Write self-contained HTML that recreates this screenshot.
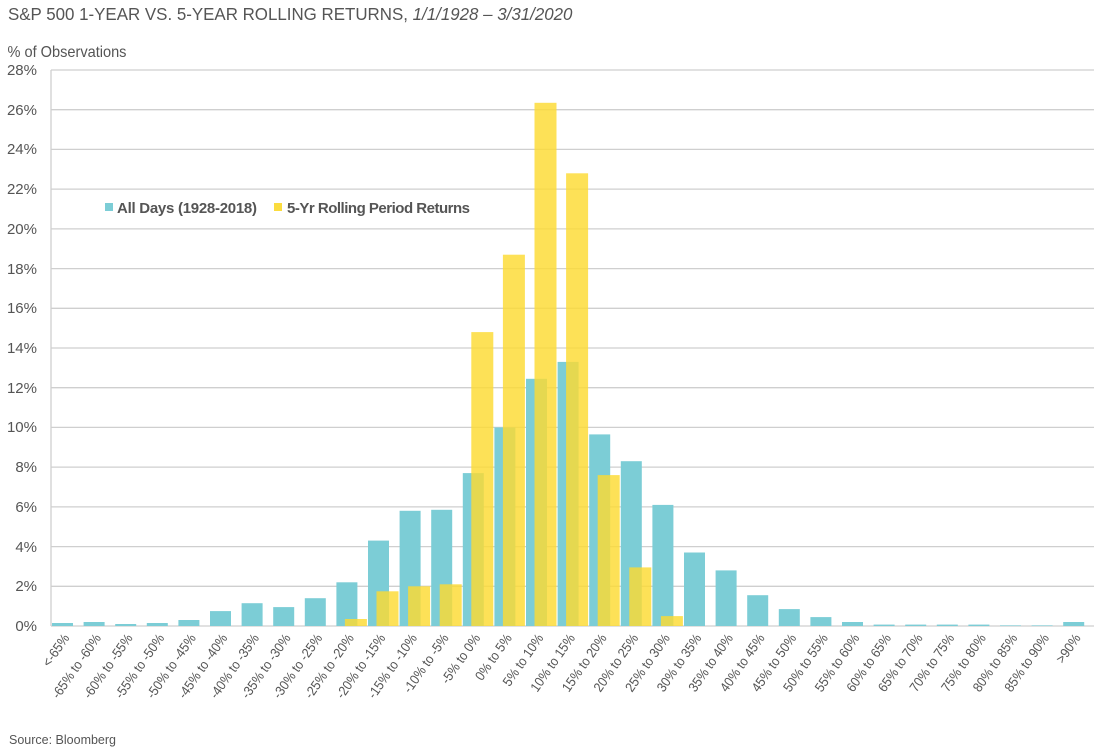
<!DOCTYPE html>
<html><head><meta charset="utf-8"><style>
body{margin:0;background:#fff;}
svg{display:block;}
text{font-family:"Liberation Sans Narrow","Liberation Sans",sans-serif;fill:#555;}
</style></head><body>
<svg width="1108" height="752" viewBox="0 0 1108 752">
<text x="8" y="20" font-size="18" fill="#595959" transform="translate(0.5,0) scale(0.94,1)">S&amp;P 500 1-YEAR VS. 5-YEAR ROLLING RETURNS, <tspan font-style="italic">1/1/1928 – 3/31/2020</tspan></text>
<text x="8" y="57" font-size="15.5" transform="scale(0.94,1)">% of Observations</text>
<g stroke="#cfcfcf" stroke-width="1.3">
<line x1="51" y1="70" x2="1094" y2="70"/><line x1="51" y1="109.7" x2="1094" y2="109.7"/><line x1="51" y1="149.4" x2="1094" y2="149.4"/><line x1="51" y1="189.1" x2="1094" y2="189.1"/><line x1="51" y1="228.9" x2="1094" y2="228.9"/><line x1="51" y1="268.6" x2="1094" y2="268.6"/><line x1="51" y1="308.3" x2="1094" y2="308.3"/><line x1="51" y1="348" x2="1094" y2="348"/><line x1="51" y1="387.7" x2="1094" y2="387.7"/><line x1="51" y1="427.4" x2="1094" y2="427.4"/><line x1="51" y1="467.1" x2="1094" y2="467.1"/><line x1="51" y1="506.9" x2="1094" y2="506.9"/><line x1="51" y1="546.6" x2="1094" y2="546.6"/><line x1="51" y1="586.3" x2="1094" y2="586.3"/><line x1="51" y1="626" x2="1094" y2="626"/>
<line x1="51" y1="70" x2="51" y2="626"/>
</g>
<g font-size="15" text-anchor="end">
<text x="37" y="75">28%</text><text x="37" y="115">26%</text><text x="37" y="154">24%</text><text x="37" y="194">22%</text><text x="37" y="234">20%</text><text x="37" y="274">18%</text><text x="37" y="313">16%</text><text x="37" y="353">14%</text><text x="37" y="393">12%</text><text x="37" y="432">10%</text><text x="37" y="472">8%</text><text x="37" y="512">6%</text><text x="37" y="552">4%</text><text x="37" y="591">2%</text><text x="37" y="631">0%</text>
</g>
<g fill="#7ccdd6">
<rect x="52" y="623" width="21" height="3"/>
<rect x="83.6" y="622" width="21" height="4"/>
<rect x="115.2" y="624" width="21" height="2"/>
<rect x="146.8" y="623" width="21" height="3"/>
<rect x="178.4" y="620" width="21" height="6"/>
<rect x="210" y="611.1" width="21" height="14.9"/>
<rect x="241.6" y="603.2" width="21" height="22.8"/>
<rect x="273.2" y="607.1" width="21" height="18.9"/>
<rect x="304.8" y="598.2" width="21" height="27.8"/>
<rect x="336.4" y="582.3" width="21" height="43.7"/>
<rect x="368" y="540.6" width="21" height="85.4"/>
<rect x="399.6" y="510.8" width="21" height="115.2"/>
<rect x="431.2" y="509.8" width="21" height="116.2"/>
<rect x="462.8" y="473.1" width="21" height="152.9"/>
<rect x="494.4" y="427.4" width="21" height="198.6"/>
<rect x="526" y="378.8" width="21" height="247.2"/>
<rect x="557.6" y="361.9" width="21" height="264.1"/>
<rect x="589.2" y="434.4" width="21" height="191.6"/>
<rect x="620.8" y="461.2" width="21" height="164.8"/>
<rect x="652.4" y="504.9" width="21" height="121.1"/>
<rect x="684" y="552.5" width="21" height="73.5"/>
<rect x="715.6" y="570.4" width="21" height="55.6"/>
<rect x="747.2" y="595.2" width="21" height="30.8"/>
<rect x="778.8" y="609.1" width="21" height="16.9"/>
<rect x="810.4" y="617.1" width="21" height="8.9"/>
<rect x="842" y="622" width="21" height="4"/>
<rect x="873.6" y="624.6" width="21" height="1.4"/>
<rect x="905.2" y="624.6" width="21" height="1.4"/>
<rect x="936.8" y="624.6" width="21" height="1.4"/>
<rect x="968.4" y="624.6" width="21" height="1.4"/>
<rect x="1000" y="625.4" width="21" height="0.6"/>
<rect x="1031.6" y="625.4" width="21" height="0.6"/>
<rect x="1063.2" y="622" width="21" height="4"/>
</g>
<g fill="rgb(252,218,50)" fill-opacity="0.82">
<rect x="344.9" y="619" width="22" height="7"/>
<rect x="376.5" y="591.3" width="22" height="34.7"/>
<rect x="408.1" y="586.3" width="22" height="39.7"/>
<rect x="439.7" y="584.3" width="22" height="41.7"/>
<rect x="471.3" y="332.1" width="22" height="293.9"/>
<rect x="502.9" y="254.7" width="22" height="371.3"/>
<rect x="534.5" y="102.8" width="22" height="523.2"/>
<rect x="566.1" y="173.3" width="22" height="452.7"/>
<rect x="597.7" y="475.1" width="22" height="150.9"/>
<rect x="629.3" y="567.4" width="22" height="58.6"/>
<rect x="660.9" y="616.1" width="22" height="9.9"/>
</g>
<rect x="105" y="203" width="8" height="8" fill="#7ccdd6"/>
<text x="117" y="213" font-size="15" font-weight="bold" fill="#333" style="font-family:'Liberation Sans',sans-serif" textLength="140">All Days (1928-2018)</text>
<rect x="274" y="203" width="8" height="8" fill="#fbdc3e"/>
<text x="287" y="213" font-size="15" font-weight="bold" fill="#333" style="font-family:'Liberation Sans',sans-serif" textLength="183">5-Yr Rolling Period Returns</text>
<g font-size="13.5" text-anchor="end">
<text transform="translate(70,638) rotate(-55) scale(0.92,1)">&lt;-65%</text>
<text transform="translate(101.6,638) rotate(-55) scale(0.92,1)">-65% to -60%</text>
<text transform="translate(133.2,638) rotate(-55) scale(0.92,1)">-60% to -55%</text>
<text transform="translate(164.8,638) rotate(-55) scale(0.92,1)">-55% to -50%</text>
<text transform="translate(196.4,638) rotate(-55) scale(0.92,1)">-50% to -45%</text>
<text transform="translate(228,638) rotate(-55) scale(0.92,1)">-45% to -40%</text>
<text transform="translate(259.6,638) rotate(-55) scale(0.92,1)">-40% to -35%</text>
<text transform="translate(291.2,638) rotate(-55) scale(0.92,1)">-35% to -30%</text>
<text transform="translate(322.8,638) rotate(-55) scale(0.92,1)">-30% to -25%</text>
<text transform="translate(354.4,638) rotate(-55) scale(0.92,1)">-25% to -20%</text>
<text transform="translate(386,638) rotate(-55) scale(0.92,1)">-20% to -15%</text>
<text transform="translate(417.6,638) rotate(-55) scale(0.92,1)">-15% to -10%</text>
<text transform="translate(449.2,638) rotate(-55) scale(0.92,1)">-10% to -5%</text>
<text transform="translate(480.8,638) rotate(-55) scale(0.92,1)">-5% to 0%</text>
<text transform="translate(512.4,638) rotate(-55) scale(0.92,1)">0% to 5%</text>
<text transform="translate(544,638) rotate(-55) scale(0.92,1)">5% to 10%</text>
<text transform="translate(575.6,638) rotate(-55) scale(0.92,1)">10% to 15%</text>
<text transform="translate(607.2,638) rotate(-55) scale(0.92,1)">15% to 20%</text>
<text transform="translate(638.8,638) rotate(-55) scale(0.92,1)">20% to 25%</text>
<text transform="translate(670.4,638) rotate(-55) scale(0.92,1)">25% to 30%</text>
<text transform="translate(702,638) rotate(-55) scale(0.92,1)">30% to 35%</text>
<text transform="translate(733.6,638) rotate(-55) scale(0.92,1)">35% to 40%</text>
<text transform="translate(765.2,638) rotate(-55) scale(0.92,1)">40% to 45%</text>
<text transform="translate(796.8,638) rotate(-55) scale(0.92,1)">45% to 50%</text>
<text transform="translate(828.4,638) rotate(-55) scale(0.92,1)">50% to 55%</text>
<text transform="translate(860,638) rotate(-55) scale(0.92,1)">55% to 60%</text>
<text transform="translate(891.6,638) rotate(-55) scale(0.92,1)">60% to 65%</text>
<text transform="translate(923.2,638) rotate(-55) scale(0.92,1)">65% to 70%</text>
<text transform="translate(954.8,638) rotate(-55) scale(0.92,1)">70% to 75%</text>
<text transform="translate(986.4,638) rotate(-55) scale(0.92,1)">75% to 80%</text>
<text transform="translate(1018,638) rotate(-55) scale(0.92,1)">80% to 85%</text>
<text transform="translate(1049.6,638) rotate(-55) scale(0.92,1)">85% to 90%</text>
<text transform="translate(1081.2,638) rotate(-55) scale(0.92,1)">&gt;90%</text>
</g>
<text x="9" y="744" font-size="12.5" fill="#888">Source: Bloomberg</text>
</svg>
</body></html>
